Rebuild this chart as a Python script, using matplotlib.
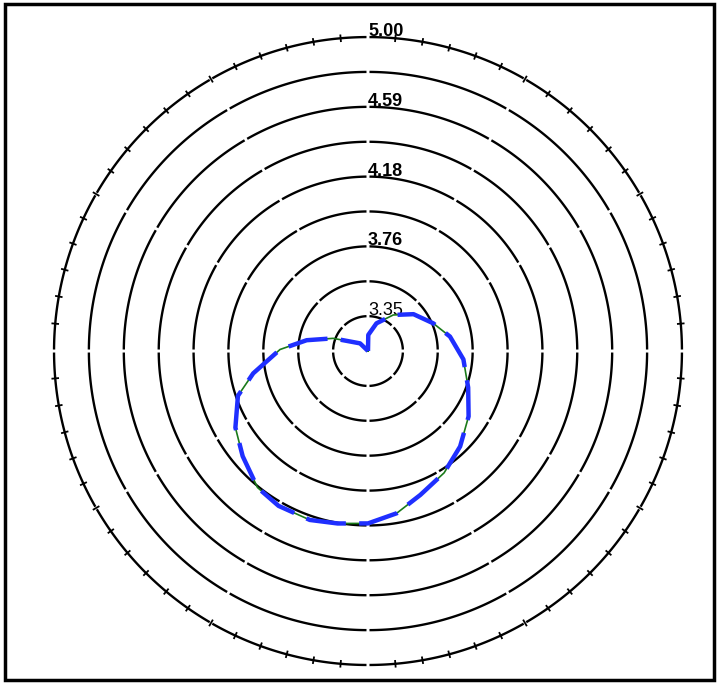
import numpy as np
import matplotlib.pyplot as plt
from matplotlib.patches import Rectangle

plt.rcParams['font.family'] = ['Liberation Sans', 'DejaVu Sans']

# 同心円の半径（値）
ring_r = [3.35, 3.556, 3.7625, 3.969, 4.175, 4.381, 4.5875, 4.794, 5.00]
# 目盛ラベル
label_r = [3.35, 3.7625, 4.175, 4.5875, 5.00]
label_txt = ["3.35", "3.76", "4.18", "4.59", "5.00"]

# パターン（角度は北から時計回り, deg）
ang = [0, 1, 17, 35, 51, 67, 80, 95, 110, 123, 136, 148, 160, 170, 180,
       190, 199, 210, 219, 230, 240, 251, 259, 271, 280, 290, 314, 360]
rv = [3.144, 3.239, 3.315, 3.404, 3.490, 3.563, 3.636, 3.710, 3.774, 3.853,
      3.928, 3.993, 4.049, 4.118, 4.163, 4.179, 4.200, 4.201, 4.182, 4.111,
      4.049, 3.957, 3.835, 3.664, 3.512, 3.363, 3.209, 3.144]

rmin = 3.14375
rmax = 5.00
r_px_out = 314.0  # 外周の半径(px)

fig = plt.figure(figsize=(7.2, 6.84), dpi=100)
ax = fig.add_axes([0.075, 0.0278, 0.8722, 0.918], projection='polar')
ax.set_theta_zero_location('N')
ax.set_theta_direction(-1)
ax.set_ylim(rmin, rmax)
ax.set_xticks([])
ax.set_yticks([])
ax.grid(False)
ax.spines['polar'].set_visible(False)
ax.patch.set_alpha(0)

# 同心円（ところどころ切れ目あり）
for r in ring_r:
    rp = (r - rmin) / (rmax - rmin) * r_px_out
    gap = 3.0 / rp
    nseg = 8 if rp < 120 else 12
    edges = np.linspace(0, 2 * np.pi, nseg + 1)
    for a, b in zip(edges[:-1], edges[1:]):
        th = np.linspace(a + gap / 2, b - gap / 2, 80)
        ax.plot(th, np.full_like(th, r), color='black', lw=1.7,
                solid_capstyle='butt', clip_on=False)

# 外周の目盛
for d in range(0, 360, 5):
    if d % 90 == 0:
        continue
    t = np.deg2rad(d)
    ax.plot([t, t], [rmax - 0.017, rmax + 0.017], color='black', lw=1.3,
            clip_on=False)

# ラベル
for r, s in zip(label_r, label_txt):
    w = 'normal' if s == "3.35" else 'bold'
    ax.text(0, r + 0.006, s, ha='left', va='baseline', fontsize=13,
            fontweight=w, color='black')

# パターン
ang_rad = np.deg2rad(ang)
ax.plot(ang_rad, rv, color='#1a7a1a', lw=1.2, zorder=3)
ax.plot(ang_rad, rv, color='#1f2fff', lw=3.2, ls=(0, (9, 3)), zorder=4)

fig.patches.append(Rectangle((0.007, 0.006), 0.985, 0.988,
                             transform=fig.transFigure, fill=False,
                             lw=2.5, ec='black'))

fig.savefig("out.png", dpi=100)
